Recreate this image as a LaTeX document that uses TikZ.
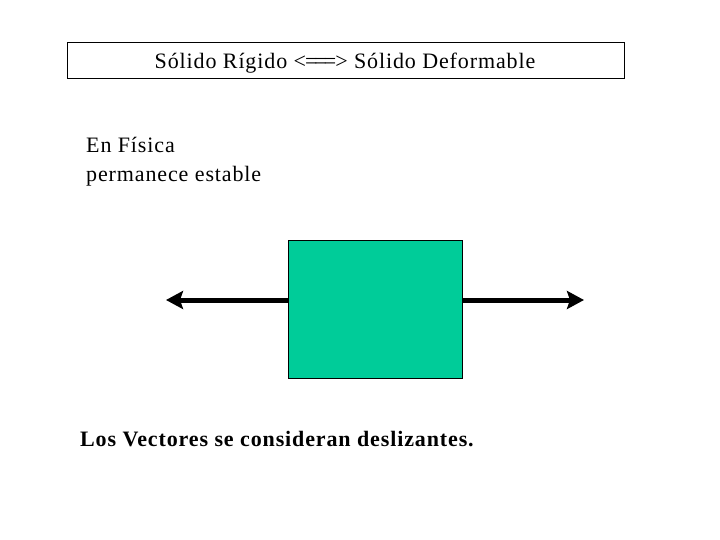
\documentclass[tikz,border=0pt]{standalone}
\usepackage{fontspec}
\setmainfont{Liberation Serif}[LetterSpace=4]
\usetikzlibrary{arrows.meta}
\definecolor{boxgreen}{HTML}{00CC99}
\tikzset{
  titlebox/.style={draw=black, line width=0.8pt, minimum width=557pt, minimum height=36pt, inner sep=0pt},
  txt/.style={inner sep=0pt, anchor=base west, font=\fontsize{22}{26}\selectfont},
  body/.style={draw=black, line width=0.8pt, fill=boxgreen, minimum width=174pt, minimum height=138pt, inner sep=0pt},
  force/.style={line width=5pt, -{Stealth[length=17pt, width=18pt, inset=3pt]}}
}
\begin{document}
\begin{tikzpicture}[x=1pt, y=-1pt]
\useasboundingbox (0,0) rectangle (720,540);
\node[titlebox] (title) at (345.5,60) {};
\node[txt, anchor=base] (titletext) at (345,69) {Sólido Rígido <\kern-1pt=\kern-3pt=\kern-3pt=\kern-1pt> Sólido Deformable};
\node[txt] (l1) at (86,153) {En Física};
\node[txt] (l2) at (86,182) {permanece estable};
\node[body] (blk) at (375,309) {};
\coordinate (lend) at (166,300);
\coordinate (rend) at (584,300);
\draw[force] (blk.west |- lend) -- (lend);
\draw[force] (blk.east |- rend) -- (rend);
\node[txt, font=\fontsize{22}{26}\selectfont\bfseries] (vec) at (80,446) {Los Vectores se consideran deslizantes.};
\end{tikzpicture}
\end{document}
